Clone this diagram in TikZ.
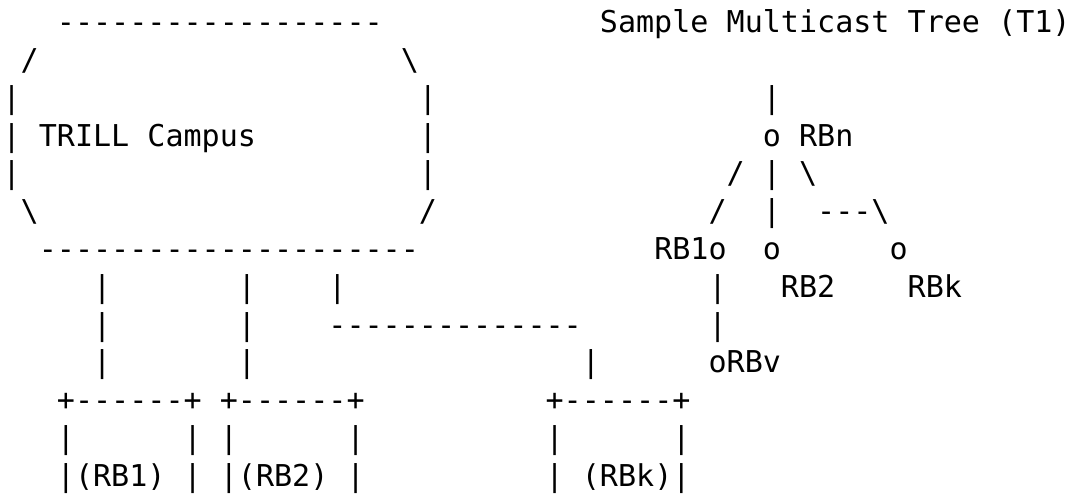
\documentclass[tikz,border=0pt]{standalone}
\usepackage{fontspec}
\setmonofont{DejaVu Sans Mono}
\tikzset{
  asc/.style={font=\ttfamily\fontsize{22.55}{28}\selectfont, text=black, inner sep=0pt, anchor=base west}
}
\newcommand{\bs}{\textbackslash}

\begin{document}
\begin{tikzpicture}[x=13.575pt, y=-28.3125pt]
% Hoja
\path [fill=white] (-0.13,0.126) rectangle (59.26,13.212);
\useasboundingbox (-0.13,0.126) rectangle (59.26,13.212);

% Campus TRILL
\node [asc] (ctop) at (3,1) {------------------};
\node [asc] (cnw) at (1,2) {/};
\node [asc] (cne) at (22,2) {\bs};
\foreach \r in {3,4,5} {
  \node [asc] (cw\r) at (0,\r) {|};
  \node [asc] (ce\r) at (23,\r) {|};
}
\node [asc] (campus) at (2,4) {TRILL Campus};
\node [asc] (csw) at (1,6) {\bs};
\node [asc] (cse) at (23,6) {/};
\node [asc] (cbot) at (2,7) {---------------------};

% Enlaces hacia los RB
\foreach \r in {8,9,10} {
  \node [asc] (lone\r) at (5,\r) {|};
  \node [asc] (ltwo\r) at (13,\r) {|};
}
\node [asc] (lkup) at (18,8) {|};
\node [asc] (lkh) at (18,9) {--------------};
\node [asc] (lkdn) at (32,10) {|};

% RB1
\node [asc] (bonetop) at (3,11) {+------+};
\node [asc] (bonel) at (3,12) {|};
\node [asc] (boner) at (10,12) {|};
\node [asc] (bone) at (3,13) {|(RB1) |};

% RB2
\node [asc] (btwotop) at (12,11) {+------+};
\node [asc] (btwol) at (12,12) {|};
\node [asc] (btwor) at (19,12) {|};
\node [asc] (btwo) at (12,13) {|(RB2) |};

% RBk
\node [asc] (bktop) at (30,11) {+------+};
\node [asc] (bkl) at (30,12) {|};
\node [asc] (bkr) at (37,12) {|};
\node [asc] (bk) at (30,13) {| (RBk)|};

% Arbol T1
\node [asc] (title) at (33,1) {Sample Multicast Tree (T1)};
\node [asc] (troot) at (42,3) {|};
\node [asc] (rbn) at (42,4) {o RBn};
\node [asc] (tla) at (40,5) {/};
\node [asc] (tma) at (42,5) {|};
\node [asc] (tra) at (44,5) {\bs};
\node [asc] (tlb) at (39,6) {/};
\node [asc] (tmb) at (42,6) {|};
\node [asc] (trb) at (45,6) {---\bs};
\node [asc] (rbone) at (36,7) {RB1o};
\node [asc] (rbtwoo) at (42,7) {o};
\node [asc] (rbko) at (49,7) {o};
\node [asc] (tva) at (39,8) {|};
\node [asc] (rbtwo) at (43,8) {RB2};
\node [asc] (rbk) at (50,8) {RBk};
\node [asc] (tvb) at (39,9) {|};
\node [asc] (rbv) at (39,10) {oRBv};
\end{tikzpicture}
\end{document}
